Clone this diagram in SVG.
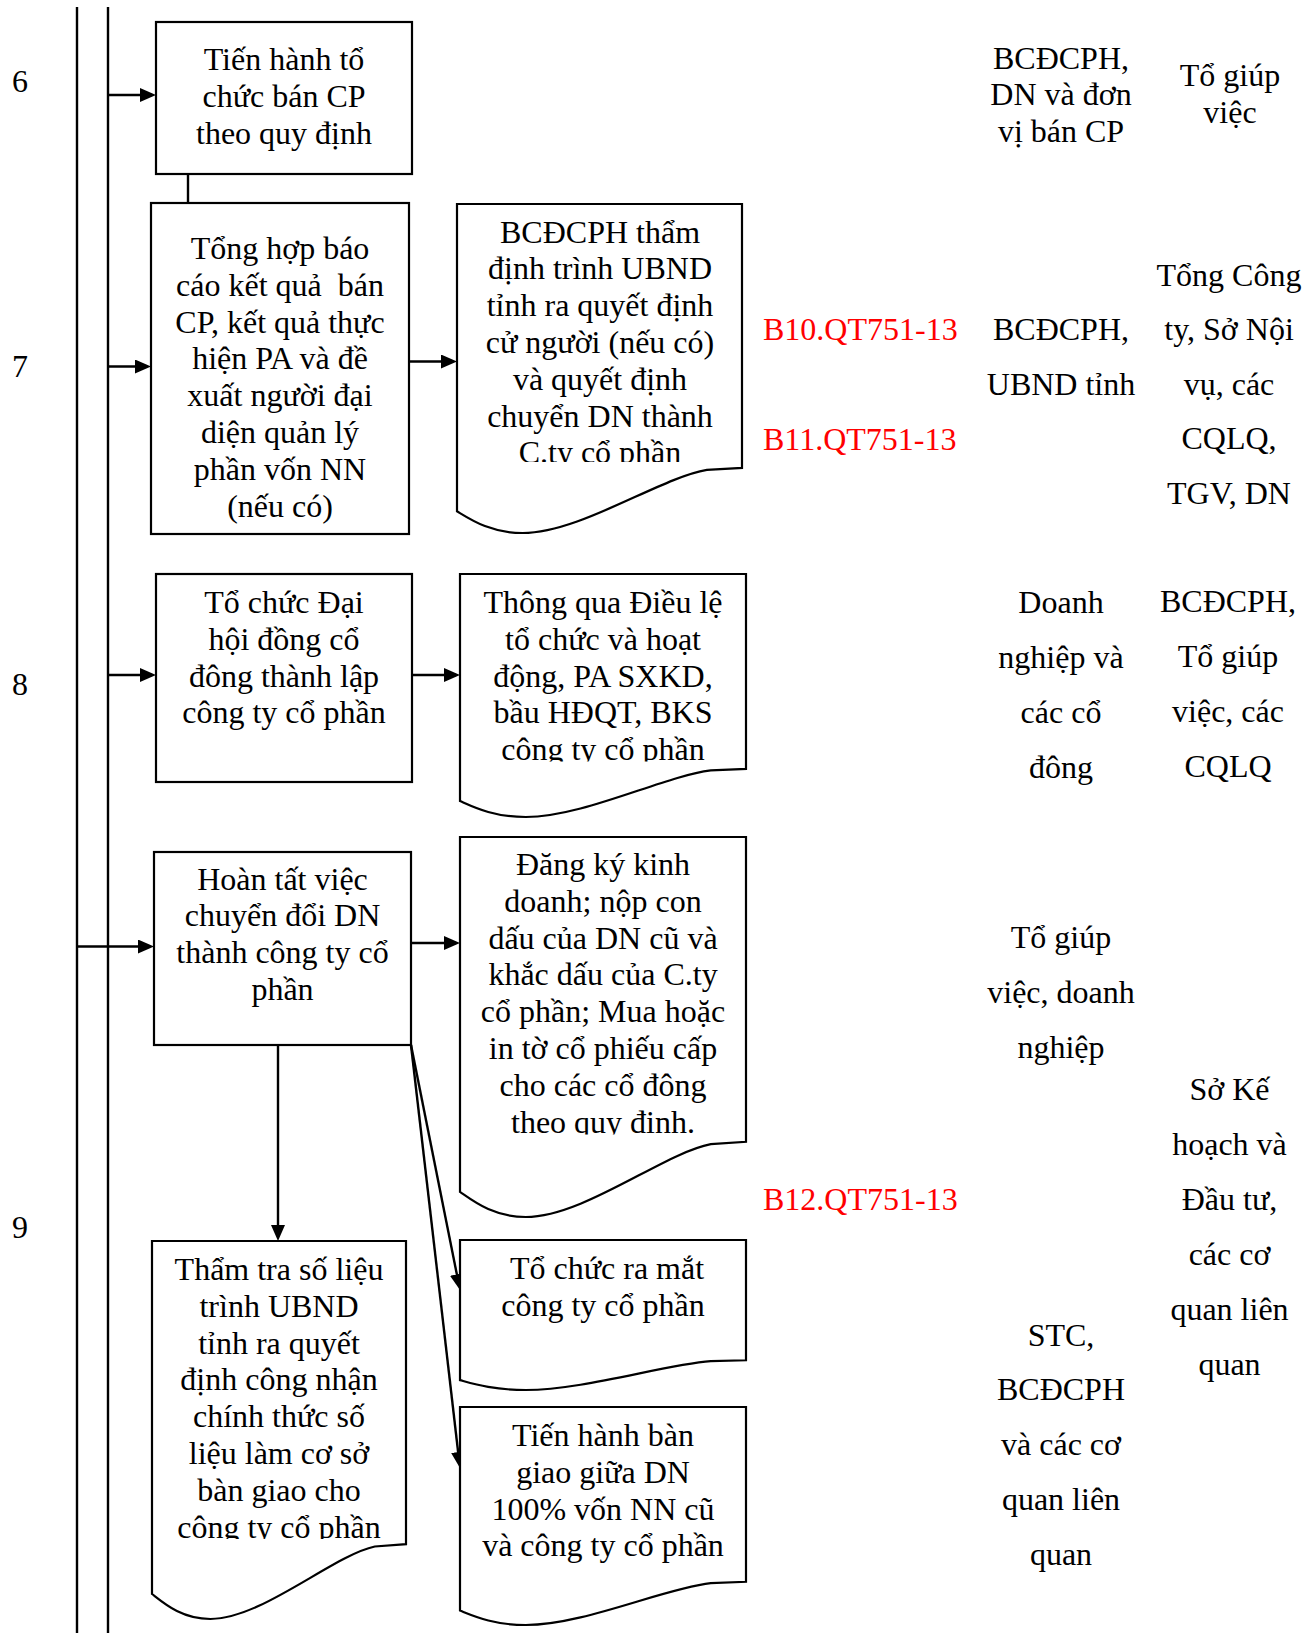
<svg xmlns="http://www.w3.org/2000/svg" width="1316" height="1633" viewBox="0 0 1316 1633">
<style>
text { font-family: "Liberation Serif", "Times New Roman", serif; font-size: 32px; fill: #000; text-anchor: middle; }
text.red { fill: #ff0000; text-anchor: start; }
.box { fill: #fff; stroke: #000; stroke-width: 2.2; }
.ln { stroke: #000; stroke-width: 2.4; fill: none; }
.lane { stroke: #000; stroke-width: 2.4; fill: none; }
</style>
<defs>
<marker id="ah" viewBox="0 0 16 14" markerUnits="userSpaceOnUse" markerWidth="16" markerHeight="14" refX="12" refY="7" orient="auto">
<path d="M0,0 L16,7 L0,14 Z" fill="#000"/>
</marker>
<clipPath id="c7"><rect x="457" y="204" width="285" height="258"/></clipPath>
<clipPath id="c8"><rect x="460" y="574" width="286" height="187.5"/></clipPath>
<clipPath id="c9"><rect x="460" y="837" width="286" height="297.5"/></clipPath>
<clipPath id="c10"><rect x="152" y="1241" width="254" height="298"/></clipPath>
</defs>
<rect width="1316" height="1633" fill="#fff"/>

<g id="lanes">
<line class="lane" x1="77" y1="7" x2="77" y2="1633"/>
<line class="lane" x1="108" y1="7" x2="108" y2="1633"/>
</g>

<g id="row-labels">
<text x="20" y="92">6</text>
<text x="20" y="377">7</text>
<text x="20" y="695">8</text>
<text x="20" y="1238">9</text>
</g>

<g id="connectors">
<line class="ln" x1="108" y1="95" x2="152" y2="95" marker-end="url(#ah)"/>
<line class="ln" x1="188" y1="174" x2="188" y2="203"/>
<line class="ln" x1="108" y1="366.5" x2="147" y2="366.5" marker-end="url(#ah)"/>
<line class="ln" x1="409" y1="361.5" x2="453" y2="361.5" marker-end="url(#ah)"/>
<line class="ln" x1="108" y1="675" x2="152" y2="675" marker-end="url(#ah)"/>
<line class="ln" x1="412" y1="675" x2="456" y2="675" marker-end="url(#ah)"/>
<line class="ln" x1="77" y1="946.5" x2="150" y2="946.5" marker-end="url(#ah)"/>
<line class="ln" x1="411" y1="943" x2="456" y2="943" marker-end="url(#ah)"/>
<line class="ln" x1="278" y1="1045" x2="278" y2="1237" marker-end="url(#ah)"/>
<line class="ln" x1="411" y1="1045" x2="459.2" y2="1286.1" marker-end="url(#ah)"/>
<line class="ln" x1="411" y1="1045" x2="459.5" y2="1464" marker-end="url(#ah)"/>
</g>

<g id="n6">
<rect class="box" x="156" y="22" width="256" height="152"/>
<text x="284" y="70">Tiến hành tổ</text>
<text x="284" y="106.8">chức bán CP</text>
<text x="284" y="143.6">theo quy định</text>
</g>

<g id="n7">
<rect class="box" x="151" y="203" width="258" height="331"/>
<text x="280" y="259">Tổng hợp báo</text>
<text x="280" y="295.8">cáo kết quả&#160; bán</text>
<text x="280" y="332.6">CP, kết quả thực</text>
<text x="280" y="369.4">hiện PA và đề</text>
<text x="280" y="406.2">xuất người đại</text>
<text x="280" y="443">diện quản lý</text>
<text x="280" y="479.8">phần vốn NN</text>
<text x="280" y="516.6">(nếu có)</text>
</g>

<g id="d7">
<path class="box" d="M457,204 H742 V467.9 L706.9,469.9 C659.9,477.8 580.1,533 522.6,533 C490.1,533 470.1,519.2 457,511.3 Z"/>
<g clip-path="url(#c7)">
<text x="600" y="242.5">BCĐCPH thẩm</text>
<text x="600" y="279.3">định trình UBND</text>
<text x="600" y="316.1">tỉnh ra quyết định</text>
<text x="600" y="352.9">cử người (nếu có)</text>
<text x="600" y="389.7">và quyết định</text>
<text x="600" y="426.5">chuyển DN thành</text>
<text x="600" y="463.3">C.ty cổ phần</text>
</g>
</g>

<g id="n8">
<rect class="box" x="156" y="574" width="256" height="208"/>
<text x="284" y="613">Tổ chức Đại</text>
<text x="284" y="649.8">hội đồng cổ</text>
<text x="284" y="686.6">đông thành lập</text>
<text x="284" y="723.4">công ty cổ phần</text>
</g>

<g id="d8">
<path class="box" d="M460,574 H746 V768.9 L710.8,770.4 C663.6,776.2 583.6,817 525.8,817 C493.2,817 473.2,806.8 460,801 Z"/>
<g clip-path="url(#c8)">
<text x="603" y="613">Thông qua Điều lệ</text>
<text x="603" y="649.8">tổ chức và hoạt</text>
<text x="603" y="686.6">động, PA SXKD,</text>
<text x="603" y="723.4">bầu HĐQT, BKS</text>
<text x="603" y="760.2">công ty cổ phần</text>
</g>
</g>

<g id="n9">
<rect class="box" x="154" y="852" width="257" height="193"/>
<text x="282.5" y="889.6">Hoàn tất việc</text>
<text x="282.5" y="926.4">chuyển đổi DN</text>
<text x="282.5" y="963.2">thành công ty cổ</text>
<text x="282.5" y="1000">phần</text>
</g>

<g id="d9">
<path class="box" d="M460,837 H746 V1141.8 L710.8,1144.1 C663.6,1153.2 583.6,1217 525.8,1217 C493.2,1217 473.2,1201 460,1191.9 Z"/>
<g clip-path="url(#c9)">
<text x="603" y="875">Đăng ký kinh</text>
<text x="603" y="911.8">doanh; nộp con</text>
<text x="603" y="948.6">dấu của DN cũ và</text>
<text x="603" y="985.4">khắc dấu của C.ty</text>
<text x="603" y="1022.2">cổ phần; Mua hoặc</text>
<text x="603" y="1059">in tờ cổ phiếu cấp</text>
<text x="603" y="1095.8">cho các cổ đông</text>
<text x="603" y="1132.6">theo quy định.</text>
</g>
</g>

<g id="d10">
<path class="box" d="M152,1241 H406 V1544.2 L374.8,1546.5 C332.8,1555.5 261.7,1619 210.4,1619 C181.5,1619 163.7,1603.1 152,1594 Z"/>
<g clip-path="url(#c10)">
<text x="279" y="1280">Thẩm tra số liệu</text>
<text x="279" y="1316.8">trình UBND</text>
<text x="279" y="1353.6">tỉnh ra quyết</text>
<text x="279" y="1390.4">định công nhận</text>
<text x="279" y="1427.2">chính thức số</text>
<text x="279" y="1464">liệu làm cơ sở</text>
<text x="279" y="1500.8">bàn giao cho</text>
<text x="279" y="1537.6">công ty cổ phần</text>
</g>
</g>

<g id="d11">
<path class="box" d="M460,1240 H746 V1360.3 L710.8,1361.2 C663.6,1364.8 583.6,1390 525.8,1390 C493.2,1390 473.2,1383.7 460,1380.1 Z"/>
<text x="607" y="1279">Tổ chức ra mắt</text>
<text x="603" y="1315.8">công ty cổ phần</text>
</g>

<g id="d12">
<path class="box" d="M460,1407 H746 V1581.8 L710.8,1583.1 C663.6,1588.3 583.6,1625 525.8,1625 C493.2,1625 473.2,1615.8 460,1610.6 Z"/>
<text x="603" y="1446">Tiến hành bàn</text>
<text x="603" y="1482.8">giao giữa DN</text>
<text x="603" y="1519.6">100% vốn NN cũ</text>
<text x="603" y="1556.4">và công ty cổ phần</text>
</g>

<g id="codes">
<text class="red" x="763" y="340">B10.QT751-13</text>
<text class="red" x="763" y="450">B11.QT751-13</text>
<text class="red" x="763" y="1210">B12.QT751-13</text>
</g>

<g id="col-exec">
<text x="1061" y="68.5">BCĐCPH,</text>
<text x="1061" y="105">DN và đơn</text>
<text x="1061" y="141.5">vị bán CP</text>
<text x="1061" y="340">BCĐCPH,</text>
<text x="1061" y="394.6">UBND tỉnh</text>
<text x="1061" y="613">Doanh</text>
<text x="1061" y="668">nghiệp và</text>
<text x="1061" y="723">các cổ</text>
<text x="1061" y="778">đông</text>
<text x="1061" y="948">Tổ giúp</text>
<text x="1061" y="1003">việc, doanh</text>
<text x="1061" y="1058">nghiệp</text>
<text x="1061" y="1345.5">STC,</text>
<text x="1061" y="1400">BCĐCPH</text>
<text x="1061" y="1455">và các cơ</text>
<text x="1061" y="1510">quan liên</text>
<text x="1061" y="1565">quan</text>
</g>

<g id="col-coord">
<text x="1230" y="86">Tổ giúp</text>
<text x="1230" y="122.8">việc</text>
<text x="1229" y="285.5">Tổng Công</text>
<text x="1229" y="340">ty, Sở Nội</text>
<text x="1229" y="394.6">vụ, các</text>
<text x="1229" y="449.2">CQLQ,</text>
<text x="1229" y="503.8">TGV, DN</text>
<text x="1228" y="612">BCĐCPH,</text>
<text x="1228" y="667">Tổ giúp</text>
<text x="1228" y="722">việc, các</text>
<text x="1228" y="777">CQLQ</text>
<text x="1229.5" y="1100">Sở Kế</text>
<text x="1229.5" y="1155">hoạch và</text>
<text x="1229.5" y="1210">Đầu tư,</text>
<text x="1229.5" y="1265">các cơ</text>
<text x="1229.5" y="1320">quan liên</text>
<text x="1229.5" y="1375">quan</text>
</g>
</svg>
